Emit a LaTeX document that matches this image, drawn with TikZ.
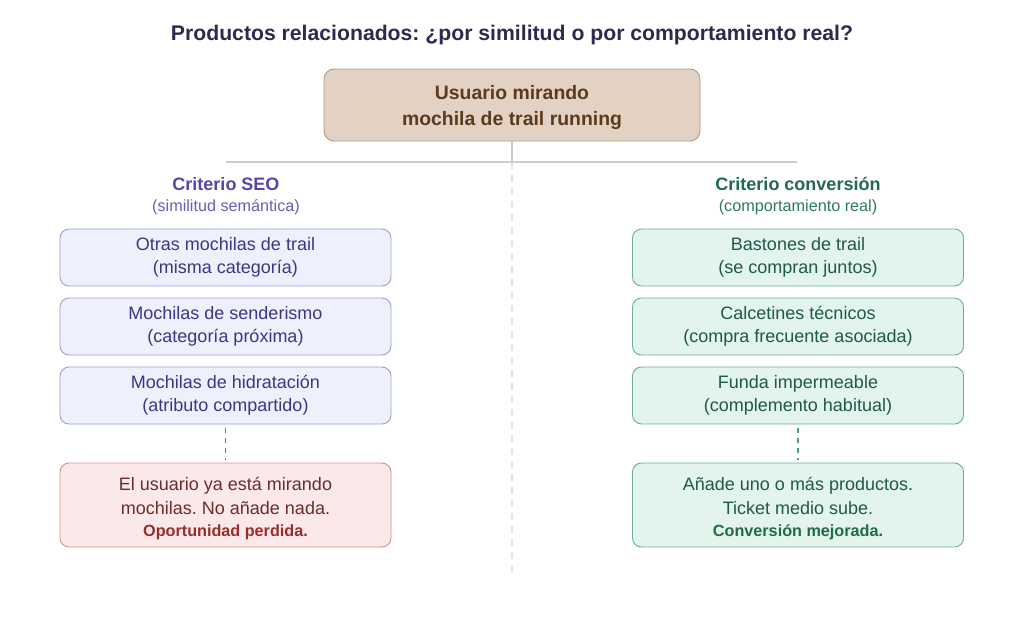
\documentclass[tikz,border=0pt]{standalone}
\usepackage{fontspec}
\setmainfont{Liberation Sans}
\frenchspacing
\definecolor{titlec}{HTML}{2E2A4F}
\definecolor{topfill}{HTML}{E3D1C3}
\definecolor{topdraw}{HTML}{B8967C}
\definecolor{toptext}{HTML}{5C3A1C}
\definecolor{seohead}{HTML}{5546A8}
\definecolor{seosub}{HTML}{6A5FB8}
\definecolor{seofill}{HTML}{EEF0FC}
\definecolor{seodraw}{HTML}{A19BDD}
\definecolor{seotext}{HTML}{3B3787}
\definecolor{convhead}{HTML}{1F6B4E}
\definecolor{convsub}{HTML}{2F7A5E}
\definecolor{convfill}{HTML}{E2F4EC}
\definecolor{convdraw}{HTML}{6FAE92}
\definecolor{convtext}{HTML}{1F5A44}
\definecolor{badfill}{HTML}{FBE9E9}
\definecolor{baddraw}{HTML}{D39191}
\definecolor{badtext}{HTML}{6B2C2C}
\definecolor{badbold}{HTML}{9A2B2B}
\definecolor{baddash}{HTML}{B35A5A}
\definecolor{convdash}{HTML}{4E9C82}
\definecolor{linec}{HTML}{CCCCCC}
\definecolor{dashc}{HTML}{E2E2E2}
\tikzset{
  x=1pt,y=1pt,
  box/.style={rounded corners=9pt, line width=0.9pt, minimum width=331pt, minimum height=57pt, align=center, inner sep=0pt, font=\fontsize{18}{23}\selectfont},
  seobox/.style={box, fill=seofill, draw=seodraw, text=seotext},
  convbox/.style={box, fill=convfill, draw=convdraw, text=convtext},
  resbox/.style={box, minimum height=84pt, font=\fontsize{18}{24}\selectfont},
  head/.style={font=\fontsize{18}{20}\selectfont\bfseries},
  sub/.style={font=\fontsize{16.2}{18}\selectfont},
}
\begin{document}
\begin{tikzpicture}
\useasboundingbox (0,0) rectangle (1024,-632);
\fill[white] (0,0) rectangle (1024,-632);

\node[text=titlec, font=\fontsize{21.2}{24}\selectfont\bfseries] (title) at (512,-35.5) {Productos relacionados: ¿por similitud o por comportamiento real?};

\node[rounded corners=10pt, fill=topfill, draw=topdraw, line width=0.9pt, minimum width=376pt, minimum height=72pt, align=center, inner sep=0pt, text=toptext, font=\fontsize{19.4}{26}\selectfont\bfseries] (top) at (512,-105) {\rule{0pt}{20pt}Usuario mirando\\mochila de trail running};

\coordinate (hub) at (512,-162);
\coordinate (hl) at (226,-162);
\coordinate (hr) at (797,-162);
\coordinate (bot) at (512,-576);
\draw[dashc, line width=1.2pt, dash pattern=on 7pt off 6pt] (hub) -- (bot);
\draw[linec, line width=1.2pt] (top.south) -- (hub);
\draw[linec, line width=1.2pt] (hl) -- (hr);

\node[head, text=seohead] (seoh) at (226,-184) {Criterio SEO};
\node[sub, text=seosub] (seos) at (226,-207.5) {(similitud semántica)};
\node[head, text=convhead] (convh) at (798,-184) {Criterio conversión};
\node[sub, text=convsub] (convs) at (798,-207.5) {(comportamiento real)};

\node[seobox] (s1) at (225.5,-257.5) {Otras mochilas de trail\\(misma categoría)};
\node[seobox] (s2) at (225.5,-326.5) {Mochilas de senderismo\\(categoría próxima)};
\node[seobox] (s3) at (225.5,-395.5) {Mochilas de hidratación\\(atributo compartido)};

\node[convbox] (c1) at (798,-257.5) {Bastones de trail\\(se compran juntos)};
\node[convbox] (c2) at (798,-326.5) {Calcetines técnicos\\(compra frecuente asociada)};
\node[convbox] (c3) at (798,-395.5) {Funda impermeable\\(complemento habitual)};

\node[resbox, fill=badfill, draw=baddraw, text=badtext] (sr) at (225.5,-505) {\rule{0pt}{21pt}El usuario ya está mirando\\mochilas. No añade nada.\\[-2pt]{\fontsize{16.2}{17}\selectfont\bfseries\color{badbold}Oportunidad perdida.}};
\node[resbox, fill=convfill, draw=convdraw, text=convtext] (cr) at (798,-505) {\rule{0pt}{21pt}Añade uno o más productos.\\Ticket medio sube.\\[-2pt]{\fontsize{16.2}{17}\selectfont\bfseries\color{convhead}Conversión mejorada.}};

\draw[baddash, line width=1.2pt, dash pattern=on 5pt off 5pt, shorten <=4pt, shorten >=3pt] (s3.south) -- (sr.north);
\draw[convdash, line width=1.2pt, dash pattern=on 5pt off 5pt, shorten <=4pt, shorten >=3pt] (c3.south) -- (cr.north);
\end{tikzpicture}
\end{document}
